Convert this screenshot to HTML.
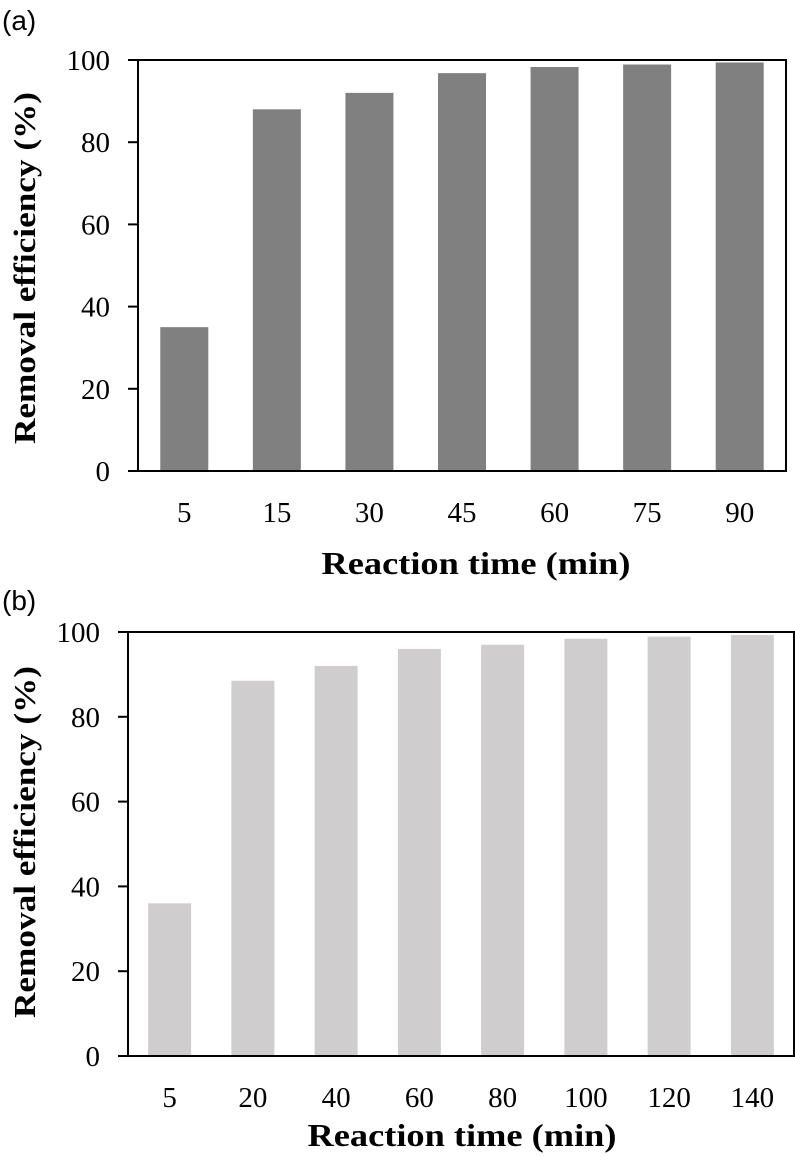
<!DOCTYPE html>
<html><head><meta charset="utf-8"><style>
body{margin:0;background:#fff}
svg{display:block}
text{font-family:"Liberation Serif",serif;fill:#000}
</style></head><body>
<svg id="chart" width="795" height="1167" viewBox="0 0 795 1167" xmlns="http://www.w3.org/2000/svg"></svg>
<script>
const catsA = ["5","15","30","45","60","75","90"];
const valsA = [35, 88, 92, 96.8, 98.3, 98.9, 99.4];
const catsB = ["5","20","40","60","80","100","120","140"];
const valsB = [36, 88.5, 92, 96, 97, 98.4, 98.9, 99.3];
const yTicks = [0, 20, 40, 60, 80, 100];

const svg = document.getElementById('chart');
const NS = 'http://www.w3.org/2000/svg';
function mk(tag, attrs, parent){
  const e = document.createElementNS(NS, tag);
  for (const k in attrs) e.setAttribute(k, attrs[k]);
  (parent||svg).appendChild(e);
  return e;
}

function drawPanel(cfg){
  const g = mk('g', {});
  
  
  const {x0, x1, yTop, yBot, cats, vals, color, barW} = cfg;
  const yScale = v => yBot - (v/100)*(yBot - yTop);
  const step = (x1 - x0)/cats.length;
  const xC = i => x0 + step*(i+0.5);
  vals.forEach((v,i)=>{
    const r = mk('rect', {x: xC(i)-barW/2, y: yScale(v), width: barW, height: yBot - yScale(v), fill: color}, g);
    
    
  });
  const frame = mk('rect', {x: x0, y: yTop, width: x1-x0, height: yBot-yTop, fill:'none', stroke:'#000', 'stroke-width':2}, g);
  
  
  yTicks.forEach(t=>{
    const y = yScale(t);
    const tk = mk('line', {x1: x0-10, x2: x0, y1: y, y2: y, stroke:'#000', 'stroke-width':2}, g);
    
    
    const tl = mk('text', {x: cfg.yLabelX, y: y+10, 'text-anchor':'end', 'font-size':29}, g);
    tl.textContent = t;
    
    
  });
  cats.forEach((c,i)=>{
    const tl = mk('text', {x: xC(i), y: yBot+51, 'text-anchor':'middle', 'font-size':29}, g);
    tl.textContent = c;
    
    
  });
  const xt = mk('text', {x: cfg.xTitleX, y: cfg.xTitleY, 'text-anchor':'middle', 'font-size':32, 'font-weight':'bold', textLength: 309, lengthAdjust:'spacingAndGlyphs'}, g);
  xt.textContent = 'Reaction time (min)';
  
  
  const yt = mk('text', {x: 0, y: 0, 'text-anchor':'middle', 'font-size':31, 'font-weight':'bold', textLength: 352, lengthAdjust:'spacingAndGlyphs', transform: 'translate(35,'+cfg.yTitleC+') rotate(-90)'}, g);
  yt.textContent = 'Removal efficiency (%)';
  
  
  const pl = mk('text', {x: 2, y: cfg.panelY, 'font-size':28, style:'font-family:"Liberation Sans",sans-serif'}, g);
  pl.textContent = cfg.panel;
  
  
}

drawPanel({name:'chart-a', panel:'(a)', panelY:30, x0:138, x1:786, yTop:60, yBot:471, cats:catsA, vals:valsA, color:'#808080', barW:48, yLabelX:110, xTitleX:476, xTitleY:574, yTitleC:268});
drawPanel({name:'chart-b', panel:'(b)', panelY:610, x0:128, x1:794, yTop:632, yBot:1056, cats:catsB, vals:valsB, color:'#cfcdcd', barW:43, yLabelX:100, xTitleX:462, xTitleY:1146, yTitleC:842});
</script>
</body></html>
